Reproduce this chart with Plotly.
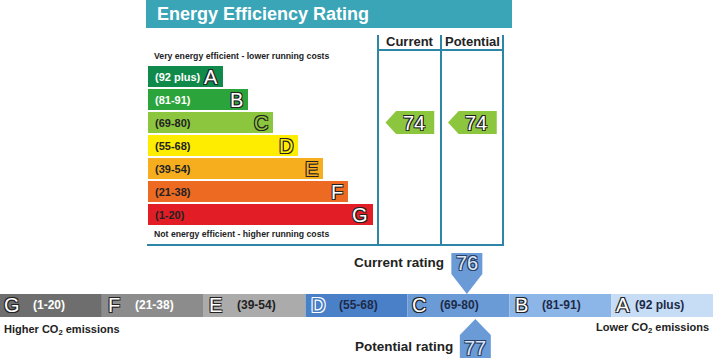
import plotly.graph_objects as go

W, H = 713, 360
FONT = "Liberation Sans, Arial, sans-serif"

# ---------------- data ----------------
# Energy efficiency rating bands (top chart)
bands = ["A", "B", "C", "D", "E", "F", "G"]
band_ranges = ["(92 plus)", "(81-91)", "(69-80)", "(55-68)", "(39-54)", "(21-38)", "(1-20)"]
band_low = [92, 81, 69, 55, 39, 21, 1]
band_high = [100, 91, 80, 68, 54, 38, 20]
band_colors = ["#0f8a4a", "#2ca43c", "#8cc63f", "#ffed00", "#f7ae1e", "#ec6a22", "#e31d25"]
band_text_colors = ["#ffffff", "#ffffff", "#222222", "#222222", "#222222", "#222222", "#222222"]
band_letter_fill = ["#ffffff", "#ffffff", "#8cc63f", "#ffed00", "#f7ae1e", "#ffffff", "#ffffff"]

columns = ["Current", "Potential"]
efficiency_values = [74, 74]

# CO2 emissions band (bottom strip)
co2_bands = ["G", "F", "E", "D", "C", "B", "A"]
co2_ranges = ["(1-20)", "(21-38)", "(39-54)", "(55-68)", "(69-80)", "(81-91)", "(92 plus)"]
co2_low = [1, 21, 39, 55, 69, 81, 92]
co2_high = [20, 38, 54, 68, 80, 91, 100]
co2_colors = ["#6e6e6e", "#8c8c8c", "#ababab", "#4a80c8", "#6b9bd7", "#8db6e8", "#c6ddf5"]
co2_text_colors = ["#ffffff", "#ffffff", "#222222", "#1d2b48", "#1d2b48", "#1d2b48", "#1d2b48"]
co2_markers = ["Current rating", "Potential rating"]
co2_values = [76, 77]

# ---------------- helpers ----------------
def px(x):
    return x / W

def py(y):
    return 1 - y / H

OUT = "1px 1px 0 #222, -1px -1px 0 #222, 1px -1px 0 #222, -1px 1px 0 #222"

def band_index(value, lows, highs):
    for i, (lo, hi) in enumerate(zip(lows, highs)):
        if lo <= value <= hi:
            return i
    return 0

annotations = []
shapes = []

def ann(text, x, y, xref, yref, size, color, xanchor="center", xshift=0, shadow=None, bold=True):
    f = dict(family=FONT, size=size, color=color)
    if shadow:
        f["shadow"] = shadow
    annotations.append(dict(
        text=f"<b>{text}</b>" if bold else text, x=x, y=y, xref=xref, yref=yref,
        xanchor=xanchor, yanchor="middle", xshift=xshift, showarrow=False, font=f,
    ))

fig = go.Figure()

# ---------------- top chart: rating bars ----------------
bar_len = [3 + i for i in range(len(bands))]
fig.add_trace(go.Bar(
    x=bar_len, y=list(range(len(bands))), orientation="h", width=0.92,
    marker=dict(color=band_colors, line=dict(width=0)),
    xaxis="x", yaxis="y", hoverinfo="skip", showlegend=False,
))
for i, b in enumerate(bands):
    ann(band_ranges[i], 0, i, "x", "y", 11, band_text_colors[i], xanchor="left", xshift=5)
    ann(b, bar_len[i], i, "x", "y", 20, band_letter_fill[i], xanchor="right", xshift=-3,
        shadow=OUT, bold=False)

# column arrows
fig.add_trace(go.Scatter(x=[0], y=[0], mode="markers", marker=dict(opacity=0),
                         xaxis="x2", yaxis="y", hoverinfo="skip", showlegend=False))
for c, v in enumerate(efficiency_values):
    r = band_index(v, band_low, band_high)
    tip, corner, right = c + 0.12, c + 0.29, c + 0.9
    shapes.append(dict(
        type="path", xref="x2", yref="y",
        path=f"M {tip},{r} L {corner},{r - 0.5} L {right},{r - 0.5} L {right},{r + 0.5} L {corner},{r + 0.5} Z",
        fillcolor=band_colors[r], line=dict(width=0), layer="above",
    ))
    ann(str(v), c + 0.57, r, "x2", "y", 20, "#ffffff", shadow=OUT, bold=False)

# frame, title, headers
LINE = "#2d86a8"
shapes.append(dict(type="rect", xref="paper", yref="paper", x0=px(146), x1=px(512),
                   y0=py(28), y1=py(0), fillcolor="#3ba5b8", line=dict(width=0)))
for xv in (378, 441, 503):
    shapes.append(dict(type="line", xref="paper", yref="paper", x0=px(xv), x1=px(xv),
                       y0=py(35), y1=py(245), line=dict(color=LINE, width=2)))
shapes.append(dict(type="line", xref="paper", yref="paper", x0=px(378), x1=px(503),
                   y0=py(50), y1=py(50), line=dict(color=LINE, width=2)))
shapes.append(dict(type="line", xref="paper", yref="paper", x0=px(147), x1=px(504),
                   y0=py(245), y1=py(245), line=dict(color=LINE, width=2)))

ann("Energy Efficiency Rating", px(155), py(14), "paper", "paper", 18, "#ffffff", xanchor="left")
ann(columns[0], px(409.5), py(41), "paper", "paper", 13, "#222222")
ann(columns[1], px(472), py(41), "paper", "paper", 13, "#222222")
ann("Very energy efficient - lower running costs", px(152), py(56), "paper", "paper", 8.7, "#222222", xanchor="left")
ann("Not energy efficient - higher running costs", px(152), py(234), "paper", "paper", 8.7, "#222222", xanchor="left")

# ---------------- bottom CO2 strip ----------------
n = len(co2_bands)
fig.add_trace(go.Bar(
    x=[i + 0.5 for i in range(n)], y=[1] * n, base=-0.5, width=1,
    marker=dict(color=co2_colors, line=dict(width=0)),
    xaxis="x3", yaxis="y3", hoverinfo="skip", showlegend=False,
))
seg_px = W / n
for i, b in enumerate(co2_bands):
    ann(b, i + 12 / seg_px, 0, "x3", "y3", 20, "#ffffff" if i != 3 else co2_colors[i],
        shadow=OUT if i != 3 else "1px 1px 0 #fff, -1px -1px 0 #fff, 1px -1px 0 #fff, -1px 1px 0 #fff",
        bold=False)
    off = 22 if len(co2_ranges[i]) > 7 else 31
    ann(co2_ranges[i], i + off / seg_px, 0, "x3", "y3", 12, co2_text_colors[i], xanchor="left")

MK = "#6b9bd7"
h = 15.5 / seg_px
for k, v in enumerate(co2_values):
    i = band_index(v, co2_low, co2_high)
    mx = i + (v - co2_low[i]) / (co2_high[i] - co2_low[i] + 1)
    if k == 0:
        path = (f"M {mx},0.5 L {mx - h},1.37 L {mx - h},2.28 L {mx + h},2.28 "
                f"L {mx + h},1.37 Z")
        ty = 1.85
    else:
        path = (f"M {mx},-0.59 L {mx + h},-1.28 L {mx + h},-2.28 L {mx - h},-2.28 "
                f"L {mx - h},-1.28 Z")
        ty = -1.85
    shapes.append(dict(type="path", xref="x3", yref="y3", path=path,
                       fillcolor=MK, line=dict(width=0), layer="above"))
    ann(str(v), mx, ty, "x3", "y3", 20, "#dbe7f7",
        shadow="1px 1px 0 #2a3f66, -1px -1px 0 #2a3f66, 1px -1px 0 #2a3f66, -1px 1px 0 #2a3f66",
        bold=False)
    ann(co2_markers[k], mx - h, ty + (0.02 if k == 0 else 0.05), "x3", "y3", 13.5, "#222222",
        xanchor="right", xshift=-5)

ann("Higher CO<sub>2</sub> emissions", px(2), -1.06, "paper", "y3", 11, "#222222", xanchor="left")
ann("Lower CO<sub>2</sub> emissions", px(711), -1.0, "paper", "y3", 11, "#222222", xanchor="right")

# ---------------- layout ----------------
hidden = dict(visible=False, fixedrange=True, showgrid=False, zeroline=False)
fig.update_layout(
    width=W, height=H, margin=dict(l=0, r=0, t=0, b=0),
    paper_bgcolor="#ffffff", plot_bgcolor="rgba(0,0,0,0)",
    showlegend=False, barmode="overlay",
    xaxis=dict(domain=[px(148), px(373)], range=[0, 9], anchor="y", **hidden),
    yaxis=dict(domain=[py(226), py(65)], range=[6.5, -0.5], anchor="x", **hidden),
    xaxis2=dict(domain=[px(378), px(503)], range=[0, 2], anchor="y", **hidden),
    xaxis3=dict(domain=[0, 1], range=[0, n], anchor="y3", **hidden),
    yaxis3=dict(domain=[0, py(250)], range=[-2.370, 2.413], anchor="x3", **hidden),
    shapes=shapes, annotations=annotations,
)

fig.write_html("out.html", config={"displayModeBar": False},
               post_script="document.body.style.margin='0';document.body.style.overflow='hidden';")
